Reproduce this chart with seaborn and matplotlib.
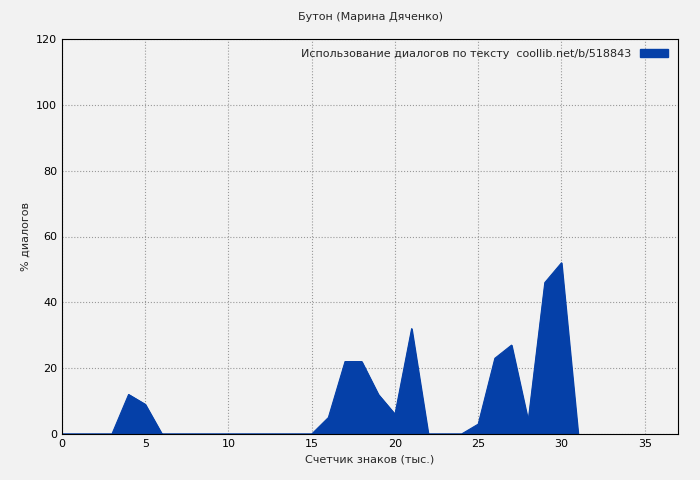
import matplotlib
matplotlib.use("Agg")
import matplotlib.pyplot as plt
import seaborn as sns
import pandas as pd

x_vals = list(range(0, 32))
y_vals = [0, 0, 0, 0, 12, 9, 0, 0, 0, 0, 0, 0, 0, 0, 0, 0, 5, 22, 22, 12, 6, 32, 0, 0, 0, 3, 23, 27, 4, 46, 52, 0]
title = "Бутон (Марина Дяченко)"
legend_label = "Использование диалогов по тексту  coollib.net/b/518843"

sns.set_style("whitegrid")
plt.rcParams['font.family'] = ['DejaVu Sans']
fig = plt.figure(figsize=(7, 4.8), dpi=100, facecolor="#f2f2f2")
ax = fig.add_axes([62/700, 46/480, (678-62)/700, (434-39)/480])
ax.set_facecolor("#f2f2f2")
df = pd.DataFrame({"x": x_vals, "y": y_vals})
sns.lineplot(data=df, x="x", y="y", ax=ax, color="#0540a8", linewidth=0.8)
ax.fill_between(df["x"], df["y"], color="#0540a8", label=legend_label)
ax.set_xlim(0, 37)
ax.set_ylim(0, 120)
ax.set_xticks(range(0, 36, 5))
ax.set_yticks(range(0, 121, 20))
ax.grid(True, color="#999999", linestyle=":", linewidth=0.8)
for s in ax.spines.values():
    s.set_color("black"); s.set_linewidth(0.8)
ax.tick_params(labelsize=8, length=3, direction="in", colors="black")
ax.set_xlabel("Счетчик знаков (тыс.)", fontsize=8)
ax.set_ylabel("% диалогов", fontsize=8)
ax.set_title(title, fontsize=8, pad=14)
leg = ax.legend(loc="upper right", fontsize=8, frameon=False, handlelength=2.5, markerfirst=False)
fig.savefig("out.png", dpi=100, facecolor=fig.get_facecolor())
